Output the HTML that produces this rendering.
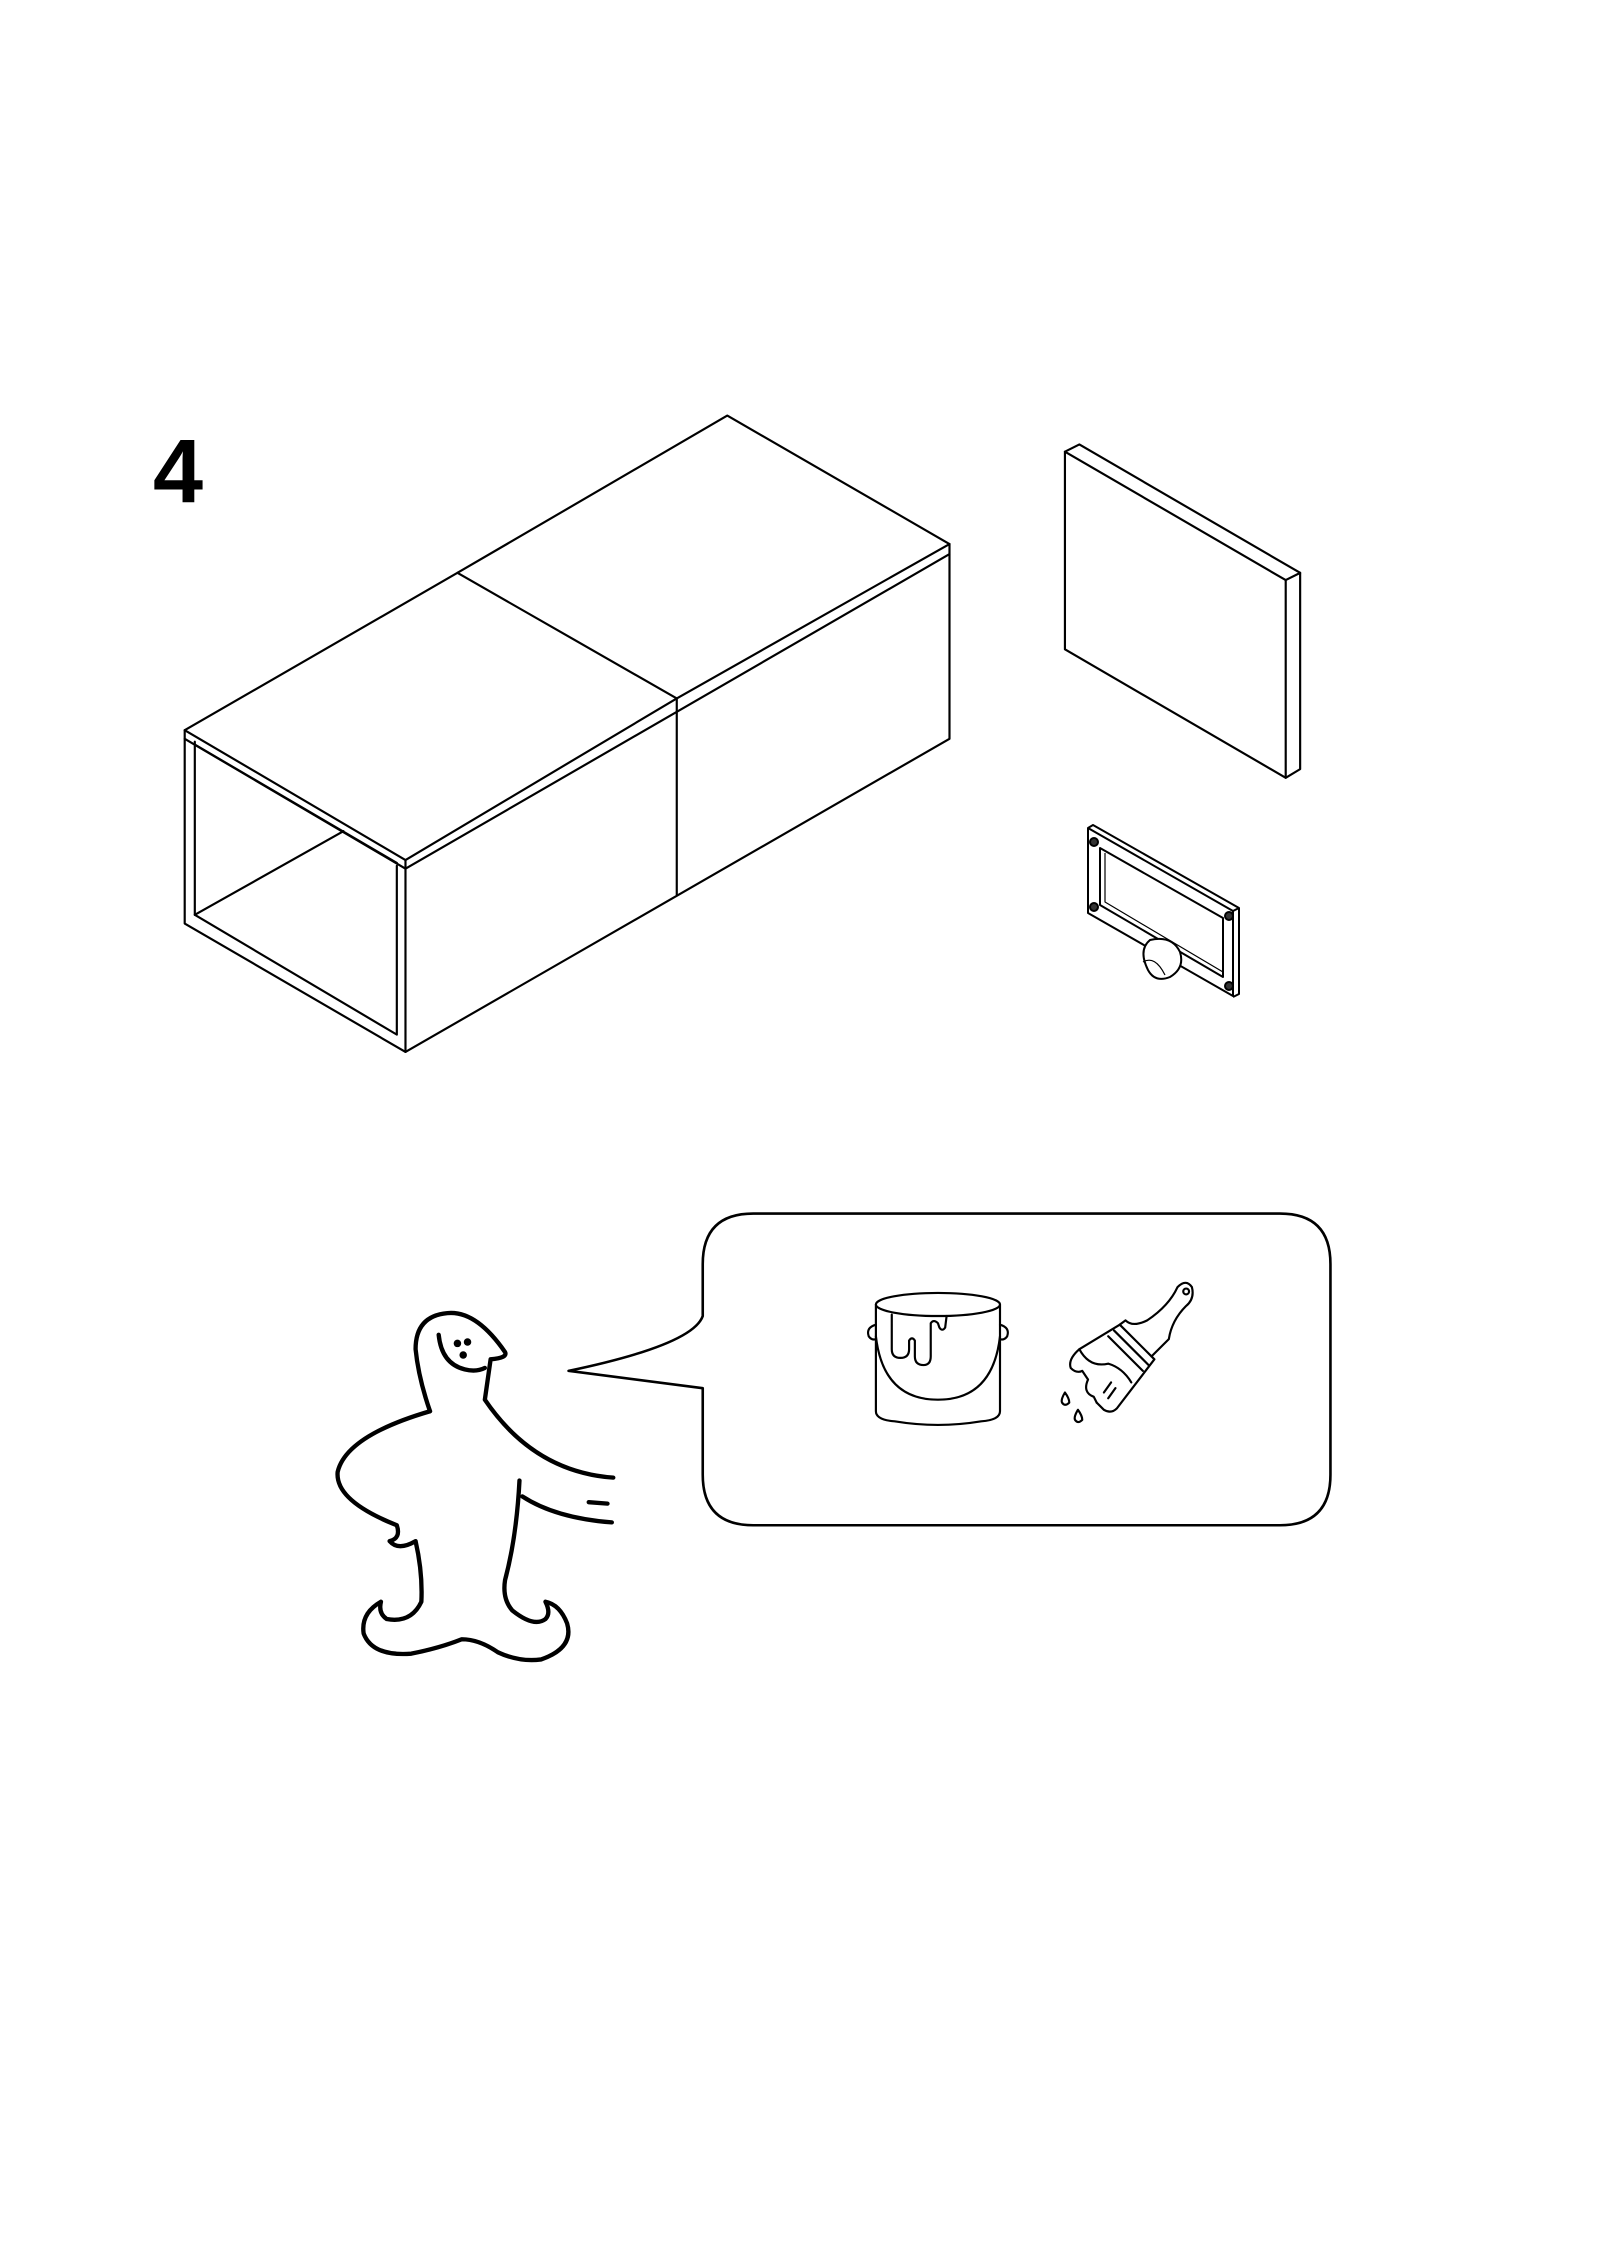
<!DOCTYPE html>
<html><head><meta charset="utf-8"><style>
html,body{margin:0;padding:0;background:#fff;}
svg{display:block}
</style></head><body>
<svg width="1600" height="2263" viewBox="0 0 1600 2263" xmlns="http://www.w3.org/2000/svg">
<rect width="1600" height="2263" fill="#fff"/>
<text x="153" y="502" font-family="Liberation Sans, sans-serif" font-weight="bold" font-size="90" fill="#000">4</text>
<g transform="scale(1.443)" fill="none" stroke="#000" stroke-linejoin="round" stroke-linecap="round">
 <g stroke-width="1.5">
  <polygon points="128,506 317,397 504,288 658,377 469,484 281,596"/>
  <line x1="317" y1="397" x2="469" y2="484"/>
  <polyline points="128,506 128,512 281,602 658,384 658,377"/>
  <line x1="281" y1="596" x2="281" y2="729"/>
  <polyline points="128,512 128,640 281,729 658,512 658,384"/>
  <line x1="469" y1="484" x2="469" y2="620"/>
  <polyline points="135,514 135,634 275,717 275,600"/>
  <line x1="135" y1="634" x2="238" y2="576"/>
  <line x1="135" y1="516" x2="275" y2="598"/>
 </g>
 <g stroke-width="1.5">
  <polygon points="738,313 891,402 891,539 738,450"/>
  <polyline points="738,313 748,308 901,397 901,533 891,539"/>
  <line x1="891" y1="402" x2="901" y2="397"/>
 </g>
 <path stroke-width="1.8" d="M487,912 L487,876 Q487,841 522,841 L887,841 Q922,841 922,876 L922,1022 Q922,1057 887,1057 L522,1057 Q487,1057 487,1022 L487,962 L394,950 Q480,932 487,912 Z" fill="#fff"/>
 <g stroke-width="1.5">
  <ellipse cx="650" cy="904" rx="43" ry="8"/>
  <path d="M607,904 L607,978 Q607,984 620,985 Q650,990 680,985 Q693,984 693,978 L693,904"/>
  <path d="M607,926 Q612,970 650,970 Q688,970 693,926"/>
  <path d="M607,918 Q600,920 602,926 Q604,929 607,928"/>
  <path d="M693,918 Q700,920 698,926 Q696,929 693,928"/>
  <path d="M618,911 L618,935 Q618,941 624,941 Q630,941 630,935 L630,929 Q632,926 634,929 L634,940 Q634,946 640,946 Q645,946 645,940 L645,917 Q647,914 650,917 L651,920 Q653,923 655,920 L656,912"/>
 </g>
 <g stroke-width="1.5">
  <path d="M798,940 L810,928 Q812,915 822,905 Q828,900 826,892 Q822,886 816,892 Q810,905 795,915 Q785,920 780,915 L776,918"/>
  <circle cx="822" cy="895" r="2"/>
  <path d="M776,918 L800,942 L774,976 Q770,980 765,977 L760,972"/>
  <line x1="772" y1="922" x2="796" y2="946"/>
  <line x1="768" y1="926" x2="792" y2="950"/>
  <path d="M776,918 L748,935 Q740,942 742,948 Q746,952 750,950 L754,956 Q750,965 758,968 L760,972"/>
  <path d="M748,935 Q755,948 768,945 Q778,948 784,958"/>
  <line x1="765" y1="965" x2="770" y2="958"/>
  <line x1="768" y1="969" x2="773" y2="962"/>
  <path d="M738,965 Q735,970 736,972 Q738,975 741,972 Q741,969 738,965Z"/>
  <path d="M747,977 Q744,982 745,984 Q747,987 750,984 Q750,981 747,977Z"/>
 </g>
 <g stroke-width="3">
  <path d="M298,978 Q290,955 288,935 Q288,912 310,910 Q330,908 350,937 Q352,941 340,942 L336,970 Q370,1020 425,1024"/>
  <path d="M298,978 Q240,995 234,1020 Q232,1040 275,1057 Q278,1066 270,1068 Q276,1075 288,1068 Q293,1090 292,1110 Q285,1125 268,1122 Q262,1118 264,1110 Q250,1118 252,1132 Q258,1148 285,1146 Q305,1142 320,1136 Q332,1136 345,1145 Q360,1152 375,1150 Q398,1142 393,1125 Q388,1112 378,1110 Q382,1118 378,1122 Q370,1128 355,1116 Q348,1108 350,1095 Q358,1065 360,1026"/>
  <path d="M362,1037 Q385,1052 424,1055"/>
  <line x1="408" y1="1041" x2="421" y2="1042"/>
  <path d="M304,925 Q306,945 322,949 Q330,951 336,948"/>
 </g>
 <g fill="#000" stroke="none">
  <circle cx="317" cy="931" r="2.6"/>
  <circle cx="324" cy="930" r="2.6"/>
  <circle cx="321" cy="939" r="2.6"/>
 </g>
</g>
<g fill="none" stroke="#000" stroke-width="2" stroke-linejoin="round">
 <polygon points="1088,828 1233,911 1233,996 1088,913"/>
 <polyline points="1088,828 1093,825 1239,908 1239,994 1233,997"/>
 <line x1="1233" y1="911" x2="1239" y2="908"/>
 <polygon points="1100,848 1223,918 1223,977 1100,905"/>
 <polyline points="1105,853 1105,902 1223,972" stroke-width="1.2"/>
 <circle cx="1094" cy="842" r="4" fill="#333"/>
 <circle cx="1094" cy="907" r="4" fill="#333"/>
 <circle cx="1229" cy="916" r="4" fill="#333"/>
 <circle cx="1229" cy="986" r="4" fill="#333"/>
 <path d="M1150,940 Q1172,935 1180,952 Q1185,968 1170,977 Q1155,983 1148,970 Q1138,950 1150,940Z" fill="#fff"/>
 <path d="M1143,962 Q1155,955 1165,975" stroke-width="1.2"/>
</g>
</svg>
</body></html>
